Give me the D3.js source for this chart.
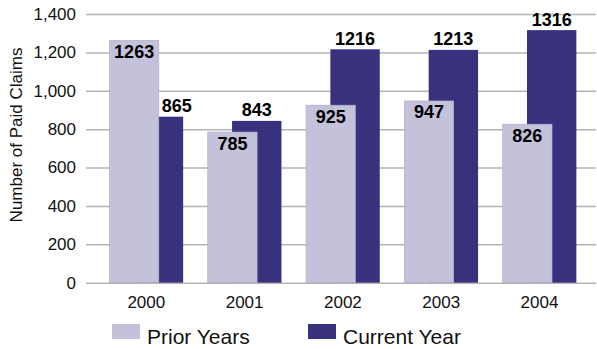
<!DOCTYPE html>
<html>
<head>
<meta charset="utf-8">
<script src="https://cdn.jsdelivr.net/npm/d3@7"></script>
<style>
  html, body { margin: 0; padding: 0; background: #fff; }
  svg { display: block; font-family: "Liberation Sans", Arial, Helvetica, sans-serif; }
</style>
</head>
<body>
<svg id="chart" width="597" height="349"></svg>
<script>
// Paid claims by year, split into prior-year and current-year claims
const years = ["2000", "2001", "2002", "2003", "2004"];
const priorYears = [1263, 785, 925, 947, 826];
const currentYear = [865, 843, 1216, 1213, 1316];
const yTicks = [0, 200, 400, 600, 800, 1000, 1200, 1400];
const seriesNames = ["Prior Years", "Current Year"];

const colors = { prior: "#c4c1da", current: "#37317e" };

const svg = d3.select("#chart");

const y = d3.scaleLinear().domain([0, 1400]).range([282.7, 14]);
const x0 = d3.scaleBand()
  .domain(years)
  .range([97.15, 588.65])
  .paddingInner(0.25)
  .paddingOuter(0.125);
const bw = x0.bandwidth();
const barW = bw * 0.67;
const offset = bw * 0.33;

// Gridlines and tick labels
const yAxis = d3.axisLeft(y).tickValues(yTicks)
  .tickSize(-(596 - 86))
  .tickPadding(10)
  .tickFormat(d3.format(","));
const gy = svg.append("g").attr("transform", "translate(86,0)").call(yAxis);
gy.select(".domain").remove();
gy.selectAll(".tick line").attr("stroke", "#b4b4b4").attr("stroke-width", 1.5);
gy.selectAll(".tick text")
  .attr("font-size", 17).attr("fill", "#111")
  .attr("font-family", "Liberation Sans, Arial, Helvetica, sans-serif");

const rows = years.map((yr, i) => ({ year: yr, prior: priorYears[i], current: currentYear[i] }));

// Current-year bars sit behind the prior-year bars
svg.append("g").selectAll("rect").data(rows).join("rect")
  .attr("x", d => x0(d.year) + offset)
  .attr("y", d => y(d.current))
  .attr("width", barW)
  .attr("height", d => y(0) - y(d.current))
  .attr("fill", colors.current);

svg.append("g").selectAll("rect").data(rows).join("rect")
  .attr("x", d => x0(d.year))
  .attr("y", d => y(d.prior))
  .attr("width", barW)
  .attr("height", d => y(0) - y(d.prior))
  .attr("fill", colors.prior)
  .attr("stroke", "#aeabca")
  .attr("stroke-width", 0.6);

// Value labels
const labelFont = 18;
const labels = svg.append("g")
  .attr("font-size", labelFont).attr("font-weight", "bold").attr("fill", "#000")
  .attr("text-anchor", "middle");

labels.selectAll("text.prior").data(rows).join("text")
  .attr("class", "prior")
  .attr("x", d => x0(d.year) + barW / 2)
  .attr("y", d => y(d.prior) + 17.5)
  .text(d => d.prior);

labels.selectAll("text.current").data(rows).join("text")
  .attr("class", "current")
  .attr("y", d => y(d.current) - 4.5)
  .text(d => d.current)
  .attr("x", function(d) {
    let cx = x0(d.year) + offset + barW / 2;
    const base = y(d.current) - 4.5;
    // keep the label clear of the prior-year bar when it would overlap it
    if (base > y(d.prior)) {
      const w = this.getComputedTextLength();
      cx = Math.max(cx, x0(d.year) + barW + w / 2 + 3);
    }
    return cx;
  });

// Year labels
svg.append("g").selectAll("text").data(years).join("text")
  .attr("x", d => x0(d) + bw / 2)
  .attr("y", 307.5)
  .attr("text-anchor", "middle")
  .attr("font-size", 17)
  .attr("fill", "#111")
  .text(d => d);

// Y axis title
svg.append("text")
  .attr("transform", "translate(22,135) rotate(-90)")
  .attr("text-anchor", "middle")
  .attr("font-size", 17)
  .attr("fill", "#111")
  .text("Number of Paid Claims");

// Legend
const legendX = [112, 308];
const legendColors = [colors.prior, colors.current];
const lg = svg.append("g");
seriesNames.forEach((name, i) => {
  lg.append("rect")
    .attr("x", legendX[i]).attr("y", 324)
    .attr("width", 28).attr("height", 15)
    .attr("fill", legendColors[i]);
  lg.append("text")
    .attr("x", legendX[i] + 35).attr("y", 343.5)
    .attr("font-size", 21).attr("fill", "#111")
    .text(name);
});
</script>
</body>
</html>
